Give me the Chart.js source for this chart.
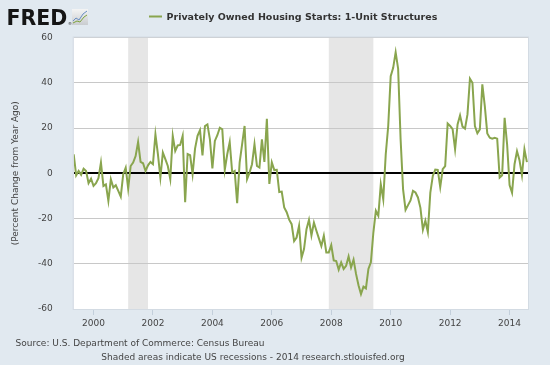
<!DOCTYPE html>
<html>
<head>
<meta charset="utf-8">
<script src="https://cdn.jsdelivr.net/npm/chart.js@4.4.0/dist/chart.umd.min.js"></script>
<style>
  html, body { margin: 0; padding: 0; background: #e1e9f0; }
  #wrap { width: 550px; height: 365px; }
</style>
</head>
<body>
<div id="wrap"><canvas id="housingChart" width="550" height="365"></canvas></div>
<script>
// Monthly values, percent change from a year ago, first value = May 1999
const startYear = 1999;
const startMonth = 5;
const pctChange = [
  8.4, -0.9, 1, -0.7, 2, 1, -4.4, -2.4,                       // 1999 May-Dec
  -5.6, -4.4, -2.2, 4.7, -5.6, -4.9, -12.2, -2.6, -6.3, -5.3, -7.8, -10.3, // 2000
  -0.4, 2.5, -6.8, 3.2, 4.7, 7.6, 13.8, 5, 4.4, 1, 3.5, 5,     // 2001
  4, 17.2, 8.4, -1.9, 9.1, 6.2, 3.2, -2.6, 16.5, 9.8, 12.3, 12.5, // 2002
  16.5, -12.8, 8.5, 8, -0.4, 10.9, 16.5, 19, 7.9, 20.9, 21.6, 15, // 2003
  2.1, 14.3, 16.8, 20.1, 19.4, 1.5, 8.4, 13.8, 0.3, 1, -13.2, 4.7, // 2004
  12.8, 20.9, -2.6, 0.3, 4, 12.8, 3.2, 2.5, 15, 5, 24.1, -4.7, // 2005
  4.8, 1.4, 1.5, -8.3, -8.1, -15.1, -17.2, -20.5, -22.5, -30, -28.4, -23.2, // 2006
  -37.4, -33.5, -24.7, -20.6, -27.5, -21.8, -25.4, -28.8, -32.2, -27.6, -35, -35, // 2007
  -31.8, -38.5, -38.8, -42.6, -39.4, -42.3, -40.9, -36.8, -41.6, -38.2, -44.5, -49.5, // 2008
  -53.4, -50.1, -50.9, -42.3, -39.4, -26.2, -16.6, -18.8, -4.9, -11.5, 8.4, 20.9, // 2009
  42.9, 46.6, 53.5, 46.2, 15, -7.1, -16.2, -14.1, -12, -7.8, -8.5, -10.7, // 2010
  -15.3, -25, -21, -26, -8.5, -1.2, 1.6, 1.5, -6.1, 1.8, 3.2, 22, // 2011
  20.9, 19.5, 10.6, 21.6, 25.6, 20.6, 19.7, 26, 41.8, 40, 20.9, 17.7, // 2012
  19.4, 39.3, 29.7, 17.6, 15.7, 15.3, 15.7, 15.3, -1.9, -0.9, 24.5, 12.8, // 2013
  -5.2, -8.6, 4, 9.8, 5.8, -0.9, 10.6, 4.9                     // 2014 Jan-Aug
];

const yTicks = [-60, -40, -20, 0, 20, 40, 60];
const xTicks = [2000, 2002, 2004, 2006, 2008, 2010, 2012, 2014];
// recession start / end as decimal years (Mar 2001 - Nov 2001, Dec 2007 - Jun 2009)
const recessionStarts = [2001 + 2 / 12, 2007 + 11 / 12];
const recessionEnds = [2001 + 10 / 12, 2009 + 5 / 12];

const seriesName = 'Privately Owned Housing Starts: 1-Unit Structures';
const yLabel = '(Percent Change from Year Ago)';
const sourceText = 'Source: U.S. Department of Commerce: Census Bureau';
const footText = 'Shaded areas indicate US recessions - 2014 research.stlouisfed.org';

const lineColor = '#89a54e';
const font = '"DejaVu Sans", Verdana, sans-serif';

// turn month index into decimal year for the linear x axis
const points = pctChange.map((v, i) => ({
  x: startYear + (startMonth - 1 + i) / 12,
  y: v,
}));

const backgroundPlugin = {
  id: 'fredBackground',
  beforeDraw(chart) {
    const { ctx, chartArea: a, scales } = chart;
    ctx.save();
    ctx.fillStyle = '#e1e9f0';
    ctx.fillRect(0, 0, chart.width, chart.height);
    ctx.fillStyle = '#ffffff';
    ctx.fillRect(a.left, a.top, a.right - a.left, a.bottom - a.top);
    // recession bars
    ctx.fillStyle = '#e6e6e6';
    recessionStarts.forEach((s, i) => {
      const x1 = scales.x.getPixelForValue(s);
      const x2 = scales.x.getPixelForValue(recessionEnds[i]);
      ctx.fillRect(x1, a.top, x2 - x1, a.bottom - a.top);
    });
    ctx.restore();
  },
  afterDraw(chart) {
    const { ctx, chartArea: a } = chart;
    ctx.save();
    // thin frame round the plot
    ctx.strokeStyle = '#d3dbe3';
    ctx.lineWidth = 1;
    ctx.strokeRect(a.left - 0.5, a.top - 0.5, a.right - a.left + 1, a.bottom - a.top + 1);

    // FRED logo
    ctx.fillStyle = '#151515';
    ctx.font = 'bold 20.5px ' + font;
    ctx.textBaseline = 'alphabetic';
    ctx.fillText('FRED', 6.5, 25);
    ctx.font = '4px ' + font;
    ctx.fillText('®', 68, 25);
    // little chart icon
    const g = ctx.createLinearGradient(0, 9, 0, 25);
    g.addColorStop(0, '#f4f4f4');
    g.addColorStop(1, '#c9ccd0');
    ctx.fillStyle = g;
    ctx.fillRect(72, 9, 16, 16);
    ctx.lineWidth = 1;
    ctx.strokeStyle = '#6a8fc2';
    ctx.beginPath();
    ctx.moveTo(73, 21); ctx.lineTo(76, 18); ctx.lineTo(79, 20); ctx.lineTo(83, 14); ctx.lineTo(87, 11);
    ctx.stroke();
    ctx.strokeStyle = '#7ea33f';
    ctx.beginPath();
    ctx.moveTo(73, 23); ctx.lineTo(77, 21); ctx.lineTo(80, 22); ctx.lineTo(84, 17); ctx.lineTo(87, 15);
    ctx.stroke();

    // legend
    ctx.strokeStyle = lineColor;
    ctx.lineWidth = 2;
    ctx.beginPath();
    ctx.moveTo(149, 16.5);
    ctx.lineTo(162, 16.5);
    ctx.stroke();
    ctx.fillStyle = '#333333';
    ctx.font = 'bold 9.5px ' + font;
    ctx.fillText(seriesName, 166.5, 20);

    // source lines
    ctx.fillStyle = '#444444';
    ctx.font = '9px ' + font;
    ctx.textAlign = 'left';
    ctx.fillText(sourceText, 15.5, 346);
    ctx.textAlign = 'center';
    ctx.fillText(footText, 253, 360);
    ctx.restore();
  },
};

const ctx = document.getElementById('housingChart').getContext('2d');

const housingChart = new Chart(ctx, {
  type: 'line',
  data: {
    datasets: [
      {
        label: seriesName,
        data: points,
        borderColor: lineColor,
        borderWidth: 2,
        pointRadius: 0,
        tension: 0,
        fill: false,
      },
    ],
  },
  options: {
    responsive: false,
    animation: false,
    devicePixelRatio: 1,
    layout: { padding: { top: 37.5, right: 22, bottom: 36, left: 0 } },
    plugins: {
      legend: { display: false },
      tooltip: { enabled: false },
    },
    scales: {
      x: {
        type: 'linear',
        min: startYear + (startMonth - 1) / 12,
        max: 2014.62,
        afterBuildTicks: (scale) => {
          scale.ticks = xTicks.map((v) => ({ value: v }));
        },
        afterFit: (scale) => {
          scale.height = 20;
        },
        grid: {
          drawOnChartArea: false,
          drawTicks: true,
          tickLength: 6,
          color: '#c3cfdb',
        },
        border: { display: false },
        ticks: {
          callback: (v) => String(v),
          color: '#444444',
          font: { family: font, size: 9 },
          padding: 3,
          maxRotation: 0,
          autoSkip: false,
        },
      },
      y: {
        min: -60,
        max: 60,
        afterBuildTicks: (scale) => {
          scale.ticks = yTicks.map((v) => ({ value: v }));
        },
        afterFit: (scale) => {
          scale.width = 73.7;
        },
        grid: {
          drawTicks: false,
          color: (c) => (c.tick && c.tick.value === 0 ? '#000000' : '#c8c8c8'),
          lineWidth: (c) => (c.tick && c.tick.value === 0 ? 2 : 1),
        },
        border: { display: false },
        ticks: {
          color: '#444444',
          font: { family: font, size: 9 },
          padding: 21,
        },
        title: {
          display: true,
          text: yLabel,
          color: '#444444',
          font: { family: font, size: 9 },
          padding: { top: 10.5, bottom: 0 },
        },
      },
    },
  },
  plugins: [backgroundPlugin],
});
</script>
</body>
</html>
